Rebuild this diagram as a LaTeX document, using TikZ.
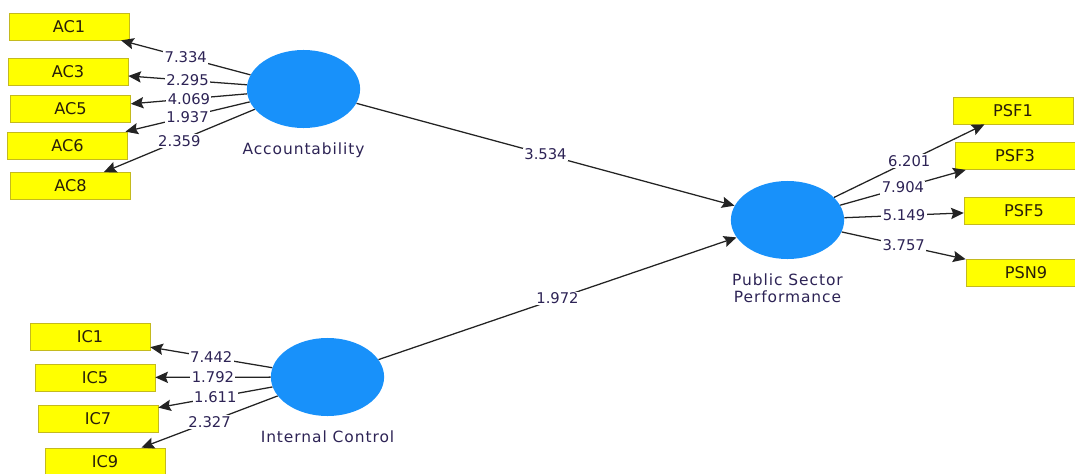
\documentclass[tikz,border=0pt]{standalone}
\usepackage{fontspec}
\setmainfont{DejaVu Sans}
\newfontfamily\lvfont[LetterSpace=6]{DejaVu Sans}
\usetikzlibrary{shapes.geometric, positioning, arrows.meta}
\definecolor{lvBlue}{RGB}{ 24,145,250}
\definecolor{mvYellow}{RGB}{255,255,  0}
\definecolor{mvEdge}{RGB}{196,186, 30}
\definecolor{mvInk}{RGB}{ 40, 30, 10}
\definecolor{lineInk}{RGB}{ 35, 35, 35}
\definecolor{coefInk}{RGB}{ 45, 35, 85}

\begin{document}
\begin{tikzpicture}[
    x=0.025cm, y=-0.025cm,
    mv/.style={draw=mvEdge, fill=mvYellow, minimum width=3cm, minimum height=0.68cm,
               inner sep=0pt, font=\fontsize{11.5}{13}\selectfont, text=mvInk},
    lv/.style={ellipse, fill=lvBlue, minimum width=2.83cm, minimum height=1.95cm, inner sep=0pt},
    lvname/.style={font=\lvfont\fontsize{11}{12.5}\selectfont, text=coefInk, align=center, inner sep=0pt},
    arc/.style={draw=lineInk, line width=0.9pt, -{Stealth[length=9pt, width=8pt, inset=1.5pt]}},
    coef/.style={fill=white, inner sep=1pt, font=\fontsize{10.5}{12}\selectfont, text=coefInk}
  ]
  \useasboundingbox (0,0) rectangle (1075,473);
  \clip (0,0) rectangle (1075,473);

  % latent variables
  \node[lv] (acc) at (303.5, 89) {};
  \node[lv] (ic)  at (327.5,377) {};
  \node[lv] (psp) at (787.5,220) {};
  \node[lvname, below=10pt of acc] (accname) {Accountability};
  \node[lvname, below=10pt of ic]  (icname)  {Internal Control};
  \node[lvname, below=10pt of psp] (pspname) {Public Sector\\Performance};

  % indicators
  \foreach \n/\x/\y in {AC1/69/26.5, AC3/68/71.5, AC5/70.5/109, AC6/67.5/145.5, AC8/70.5/186,
                        IC1/90/337, IC5/95/377.5, IC7/98/418.5, IC9/105/461.5,
                        PSF1/1013/110.5, PSF3/1015/156, PSF5/1024/210.5, PSN9/1026/272.5} {
    \node[mv] (\n) at (\x,\y) {\n};
  }

  % outer loadings
  \foreach \n/\v in {AC1/7.334, AC3/2.295, AC5/4.069, AC6/1.937, AC8/2.359} {
    \draw[arc] (acc) -- node[coef] {\v} (\n);
  }
  \foreach \n/\v in {IC1/7.442, IC5/1.792, IC7/1.611, IC9/2.327} {
    \draw[arc] (ic) -- node[coef] {\v} (\n);
  }
  \foreach \n/\v in {PSF1/6.201, PSF3/7.904, PSF5/5.149, PSN9/3.757} {
    \draw[arc] (psp) -- node[coef] {\v} (\n);
  }

  % inner model
  \draw[arc] (acc) -- node[coef] {3.534} (psp);
  \draw[arc] (ic)  -- node[coef] {1.972} (psp);
\end{tikzpicture}
\end{document}
